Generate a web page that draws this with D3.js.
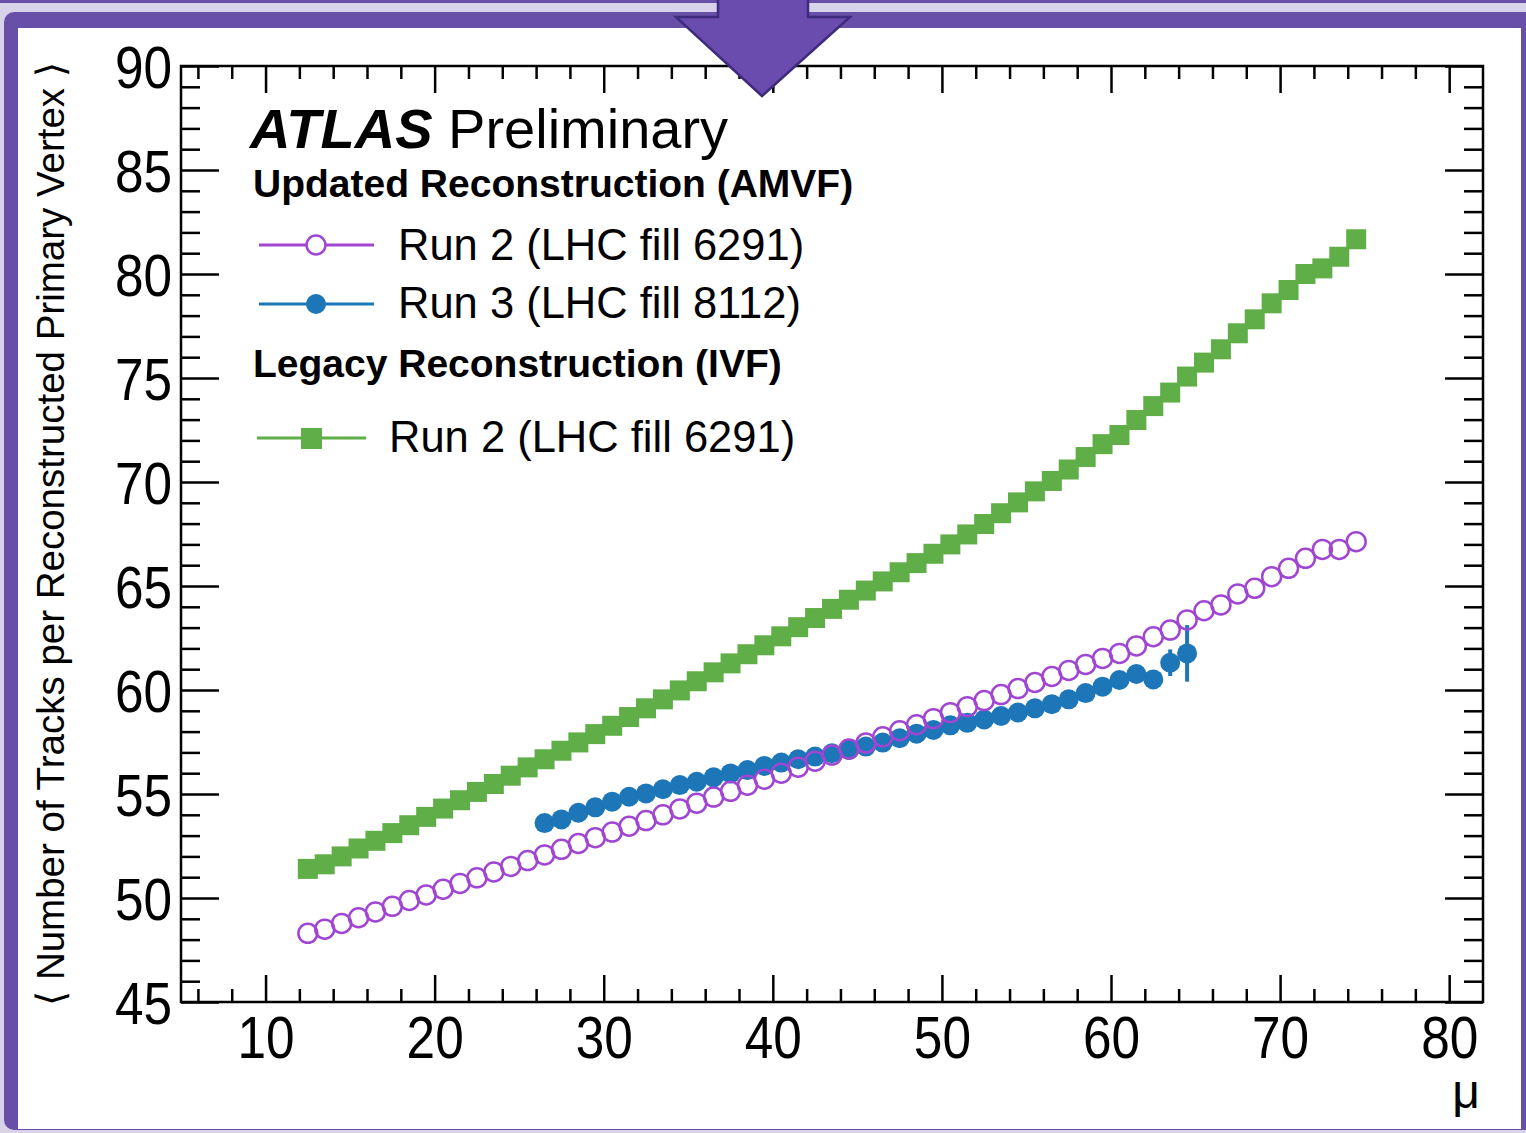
<!DOCTYPE html>
<html>
<head>
<meta charset="utf-8">
<script src="https://cdn.jsdelivr.net/npm/d3@7"></script>
<style>
  body { margin: 0; background: #d9d2eb; }
  svg { display: block; }
  .axis path { display: none; }
  .axis line { stroke: #000; stroke-width: 2.5; }
  .ticklabel text { font-family: "Liberation Sans", Arial, sans-serif; font-size: 59px; fill: #000; }
</style>
</head>
<body>
<svg id="chart" width="1526" height="1133"></svg>
<script>
// bin centres (mu)
var muRun2 = [12.5, 13.5, 14.5, 15.5, 16.5, 17.5, 18.5, 19.5, 20.5, 21.5, 22.5, 23.5, 24.5, 25.5, 26.5, 27.5,
  28.5, 29.5, 30.5, 31.5, 32.5, 33.5, 34.5, 35.5, 36.5, 37.5, 38.5, 39.5, 40.5, 41.5, 42.5, 43.5, 44.5, 45.5,
  46.5, 47.5, 48.5, 49.5, 50.5, 51.5, 52.5, 53.5, 54.5, 55.5, 56.5, 57.5, 58.5, 59.5, 60.5, 61.5, 62.5, 63.5,
  64.5, 65.5, 66.5, 67.5, 68.5, 69.5, 70.5, 71.5, 72.5, 73.5, 74.5];

var muRun3 = [26.5, 27.5, 28.5, 29.5, 30.5, 31.5, 32.5, 33.5, 34.5, 35.5, 36.5, 37.5, 38.5, 39.5, 40.5, 41.5,
  42.5, 43.5, 44.5, 45.5, 46.5, 47.5, 48.5, 49.5, 50.5, 51.5, 52.5, 53.5, 54.5, 55.5, 56.5, 57.5, 58.5, 59.5,
  60.5, 61.5, 62.5, 63.5, 64.5];

// legacy IVF, run 2 (green squares)
var ivfRun2 = [51.40, 51.62, 52.00, 52.38, 52.75, 53.12, 53.50, 53.90, 54.30, 54.70, 55.10, 55.48, 55.88, 56.28,
  56.67, 57.08, 57.48, 57.88, 58.28, 58.70, 59.12, 59.55, 59.98, 60.42, 60.85, 61.28, 61.72, 62.15, 62.58, 63.02,
  63.46, 63.90, 64.34, 64.78, 65.22, 65.66, 66.10, 66.55, 67.00, 67.48, 67.98, 68.50, 69.02, 69.55, 70.05, 70.60,
  71.20, 71.82, 72.26, 72.98, 73.65, 74.30, 75.07, 75.74, 76.38, 77.15, 77.82, 78.59, 79.23, 80.00, 80.27, 80.83,
  81.67];

// AMVF, run 2 (open purple circles)
var amvfRun2 = [48.30, 48.50, 48.78, 49.05, 49.33, 49.60, 49.88, 50.15, 50.42, 50.70, 50.97, 51.25, 51.52, 51.80,
  52.07, 52.34, 52.62, 52.90, 53.17, 53.45, 53.72, 54.00, 54.28, 54.56, 54.85, 55.13, 55.42, 55.71, 56.00, 56.29,
  56.58, 56.87, 57.16, 57.45, 57.75, 58.04, 58.33, 58.62, 58.91, 59.20, 59.49, 59.78, 60.07, 60.36, 60.65, 60.94,
  61.23, 61.52, 61.76, 62.12, 62.56, 62.88, 63.37, 63.81, 64.09, 64.62, 64.89, 65.45, 65.85, 66.33, 66.76, 66.76,
  67.13];

// AMVF, run 3 (filled blue circles) + stat. errors
var amvfRun3 = [53.60, 53.78, 54.10, 54.36, 54.63, 54.87, 55.03, 55.23, 55.43, 55.59, 55.80, 55.99, 56.15, 56.35,
  56.51, 56.67, 56.80, 56.96, 57.12, 57.28, 57.47, 57.68, 57.90, 58.08, 58.30, 58.42, 58.58, 58.75, 58.92, 59.12,
  59.32, 59.55, 59.85, 60.16, 60.48, 60.77, 60.51, 61.31, 61.76];
var amvfRun3Err = [0.05, 0.05, 0.05, 0.05, 0.05, 0.05, 0.05, 0.05, 0.05, 0.05, 0.05, 0.05, 0.05, 0.05, 0.05, 0.05,
  0.05, 0.05, 0.05, 0.05, 0.05, 0.05, 0.05, 0.05, 0.05, 0.05, 0.05, 0.06, 0.06, 0.07, 0.08, 0.09, 0.1, 0.12, 0.15,
  0.2, 0.3, 0.64, 1.36];

var xMajor = [10, 20, 30, 40, 50, 60, 70, 80];
var xMinor = [6, 8, 12, 14, 16, 18, 22, 24, 26, 28, 32, 34, 36, 38, 42, 44, 46, 48, 52, 54, 56, 58, 62, 64, 66,
  68, 72, 74, 76, 78];
var yMajor = [45, 50, 55, 60, 65, 70, 75, 80, 85, 90];
var yMinor = [46, 47, 48, 49, 51, 52, 53, 54, 56, 57, 58, 59, 61, 62, 63, 64, 66, 67, 68, 69, 71, 72, 73, 74,
  76, 77, 78, 79, 81, 82, 83, 84, 86, 87, 88, 89];

const frame = { left: 181, right: 1483, top: 66, bottom: 1002 };
const colors = { green: "#5fae48", purple: "#a046d2", blue: "#1c76b8", slide: "#6850a8", light: "#d9d2eb" };

var svg = d3.select("#chart");

// slide background / frame
svg.append("rect").attr("width", 1526).attr("height", 1133).attr("fill", colors.light);
svg.append("rect").attr("width", 1526).attr("height", 3).attr("fill", colors.slide);
svg.append("rect").attr("x", 4).attr("y", 12).attr("width", 1540).attr("height", 1118)
  .attr("rx", 10).attr("fill", colors.slide);
svg.append("rect").attr("x", 18).attr("y", 28).attr("width", 1503).attr("height", 1101).attr("fill", "#fff");

var x = d3.scaleLinear().domain([5, 82]).range([frame.left, frame.right]);
var y = d3.scaleLinear().domain([45, 90]).range([frame.bottom, frame.top]);

// axes (ROOT style ticks inside, on all four sides)
function addAxis(axis, tx, ty, cls) {
  return svg.append("g").attr("class", "axis " + (cls || ""))
    .attr("transform", "translate(" + tx + "," + ty + ")")
    .call(axis);
}
var xLab = addAxis(d3.axisBottom(x).tickValues(xMajor).tickSizeInner(-27).tickSizeOuter(0).tickPadding(14)
  .tickFormat(d3.format("d")), 0, frame.bottom, "ticklabel");
addAxis(d3.axisBottom(x).tickValues(xMinor).tickSizeInner(-13).tickSizeOuter(0).tickFormat(""), 0, frame.bottom);
addAxis(d3.axisTop(x).tickValues(xMajor).tickSizeInner(-27).tickSizeOuter(0).tickFormat(""), 0, frame.top);
addAxis(d3.axisTop(x).tickValues(xMinor).tickSizeInner(-13).tickSizeOuter(0).tickFormat(""), 0, frame.top);
var yLab = addAxis(d3.axisLeft(y).tickValues(yMajor).tickSizeInner(-38).tickSizeOuter(0).tickPadding(9)
  .tickFormat(d3.format("d")), frame.left, 0, "ticklabel");
addAxis(d3.axisLeft(y).tickValues(yMinor).tickSizeInner(-19).tickSizeOuter(0).tickFormat(""), frame.left, 0);
addAxis(d3.axisRight(y).tickValues(yMajor).tickSizeInner(-38).tickSizeOuter(0).tickFormat(""), frame.right, 0);
addAxis(d3.axisRight(y).tickValues(yMinor).tickSizeInner(-19).tickSizeOuter(0).tickFormat(""), frame.right, 0);

// ROOT's label font is narrower than Arial -> squeeze horizontally
xLab.selectAll("text").attr("dy", "0.72em").attr("transform", "scale(0.87,1)");
yLab.selectAll("text").attr("dy", "0.36em").attr("transform", "scale(0.87,1)")
  .attr("x", -9 / 0.87);

svg.append("rect")
  .attr("x", frame.left).attr("y", frame.top)
  .attr("width", frame.right - frame.left).attr("height", frame.bottom - frame.top)
  .attr("fill", "none").attr("stroke", "#000").attr("stroke-width", 2.5);

// axis titles
svg.append("text")
  .attr("transform", "translate(64," + (frame.top + frame.bottom) / 2 + ") rotate(-90)")
  .attr("text-anchor", "middle")
  .style("font-family", "Liberation Sans, Arial, sans-serif").style("font-size", "38.5px")
  .text("\u27E8 Number of Tracks per Reconstructed Primary Vertex \u27E9");
svg.append("text")
  .attr("x", 1480).attr("y", 1108).attr("text-anchor", "end")
  .style("font-family", "Liberation Sans, Arial, sans-serif").style("font-size", "48px")
  .text("\u03BC");

// data
var greenData = muRun2.map(function(m, i) { return [m, ivfRun2[i]]; });
var purpleData = muRun2.map(function(m, i) { return [m, amvfRun2[i]]; });
var blueData = muRun3.map(function(m, i) { return [m, amvfRun3[i], amvfRun3Err[i]]; });

svg.selectAll(".sq").data(greenData).enter().append("rect")
  .attr("class", "sq")
  .attr("x", function(d) { return x(d[0]) - 10; })
  .attr("y", function(d) { return y(d[1]) - 10; })
  .attr("width", 20).attr("height", 20)
  .attr("fill", colors.green);

svg.selectAll(".err").data(blueData).enter().append("line")
  .attr("class", "err")
  .attr("x1", function(d) { return x(d[0]); }).attr("x2", function(d) { return x(d[0]); })
  .attr("y1", function(d) { return y(d[1] - d[2]); }).attr("y2", function(d) { return y(d[1] + d[2]); })
  .attr("stroke", colors.blue).attr("stroke-width", 4);

svg.selectAll(".dot3").data(blueData).enter().append("circle")
  .attr("class", "dot3")
  .attr("cx", function(d) { return x(d[0]); })
  .attr("cy", function(d) { return y(d[1]); })
  .attr("r", 10)
  .attr("fill", colors.blue);

svg.selectAll(".dot2").data(purpleData).enter().append("circle")
  .attr("class", "dot2")
  .attr("cx", function(d) { return x(d[0]); })
  .attr("cy", function(d) { return y(d[1]); })
  .attr("r", 9.5)
  .attr("fill", "none").attr("stroke", colors.purple).attr("stroke-width", 2.5);

// legend
var leg = svg.append("g").style("font-family", "Liberation Sans, Arial, sans-serif");
var atlas = leg.append("text").attr("x", 250).attr("y", 148).style("font-size", "56px");
atlas.append("tspan").style("font-weight", "bold").style("font-style", "italic").text("ATLAS");
atlas.append("tspan").text(" Preliminary");

leg.append("text").attr("x", 253).attr("y", 197).style("font-size", "39px").style("font-weight", "bold")
  .text("Updated Reconstruction (AMVF)");
leg.append("text").attr("x", 253).attr("y", 377).style("font-size", "39px").style("font-weight", "bold")
  .text("Legacy Reconstruction (IVF)");

leg.append("line").attr("x1", 259).attr("x2", 374).attr("y1", 245).attr("y2", 245)
  .attr("stroke", colors.purple).attr("stroke-width", 3);
leg.append("circle").attr("cx", 316).attr("cy", 245).attr("r", 9.5)
  .attr("fill", "#fff").attr("stroke", colors.purple).attr("stroke-width", 2.5);
leg.append("text").attr("x", 398).attr("y", 260).style("font-size", "43.5px").text("Run 2 (LHC fill 6291)");

leg.append("line").attr("x1", 259).attr("x2", 374).attr("y1", 304).attr("y2", 304)
  .attr("stroke", colors.blue).attr("stroke-width", 3);
leg.append("circle").attr("cx", 316).attr("cy", 304).attr("r", 10).attr("fill", colors.blue);
leg.append("text").attr("x", 398).attr("y", 318).style("font-size", "43.5px").text("Run 3 (LHC fill 8112)");

leg.append("line").attr("x1", 257).attr("x2", 366).attr("y1", 438).attr("y2", 438)
  .attr("stroke", colors.green).attr("stroke-width", 3);
leg.append("rect").attr("x", 301).attr("y", 428).attr("width", 21).attr("height", 21).attr("fill", colors.green);
leg.append("text").attr("x", 389).attr("y", 452).style("font-size", "43.5px").text("Run 2 (LHC fill 6291)");

// slide arrow on top
svg.append("polygon")
  .attr("points", "718,-3 808,-3 808,17 850,17 762,96 676,17 718,17")
  .attr("fill", "#6a4cae").attr("stroke", "#3e2b7e").attr("stroke-width", 2.5)
  .attr("stroke-linejoin", "miter");
</script>
</body>
</html>
